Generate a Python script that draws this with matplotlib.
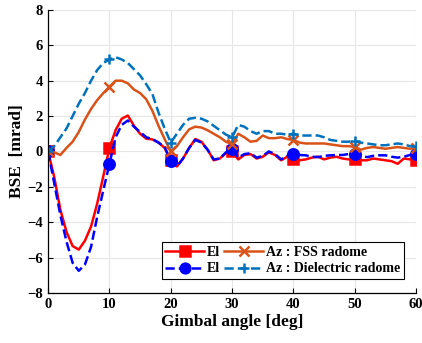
import numpy as np
import matplotlib.pyplot as plt
from matplotlib.lines import Line2D

plt.rcParams['font.family'] = ['Liberation Serif', 'DejaVu Serif']
plt.rcParams['font.weight'] = 'bold'

# gimbal angle, 1 deg steps
angle = list(range(0, 61))

el_fss = [0, -1.45, -3.3, -4.55, -5.35, -5.55, -5.05, -4.25, -2.95, -1.4,
          0.2, 1.2, 1.85, 2.03, 1.45, 1.0, 0.72, 0.68, 0.5, 0.2,
          -0.5, -0.85, -0.4, 0.2, 0.7, 0.55, 0.1, -0.5, -0.4, -0.1,
          0.0, -0.45, -0.2, -0.15, -0.4, -0.3, -0.05, -0.2, -0.5, -0.3,
          -0.45, -0.5, -0.45, -0.35, -0.3, -0.45, -0.35, -0.3, -0.4, -0.45,
          -0.45, -0.5, -0.5, -0.4, -0.45, -0.5, -0.55, -0.7, -0.4, -0.45,
          -0.5]
el_die = [0, -1.8, -3.6, -5.1, -6.3, -6.75, -6.4, -5.4, -3.7, -2.2,
          -0.7, 0.8, 1.5, 1.75, 1.4, 1.1, 0.8, 0.7, 0.5, 0.25,
          -0.55, -0.85, -0.4, 0.2, 0.65, 0.5, 0.1, -0.45, -0.4, -0.05,
          0.15, -0.35, -0.15, -0.1, -0.35, -0.25, 0.0, -0.15, -0.45, -0.25,
          -0.15, -0.2, -0.22, -0.3, -0.32, -0.25, -0.22, -0.2, -0.2, -0.15,
          -0.15, -0.25, -0.32, -0.25, -0.22, -0.22, -0.3, -0.35, -0.3, -0.2,
          -0.15]
az_fss = [0, -0.05, -0.2, 0.2, 0.55, 1.1, 1.8, 2.4, 2.9, 3.3,
          3.65, 4.0, 4.0, 3.85, 3.5, 3.3, 2.95, 2.3, 1.45, 0.7,
          0.0, 0.3, 0.8, 1.25, 1.4, 1.35, 1.2, 1.0, 0.8, 0.55,
          0.4, 1.0, 0.8, 0.55, 0.6, 0.9, 0.75, 0.75, 0.8, 0.7,
          0.65, 0.5, 0.45, 0.45, 0.45, 0.45, 0.4, 0.35, 0.3, 0.3,
          0.25, 0.1, 0.2, 0.25, 0.2, 0.15, 0.2, 0.25, 0.2, 0.15,
          0.2]
az_die = [0, 0.3, 0.8, 1.3, 2.0, 2.7, 3.3, 4.0, 4.6, 5.0,
          5.2, 5.33, 5.2, 5.0, 4.65, 4.3, 3.8, 3.25, 2.2, 1.3,
          0.5, 1.0, 1.5, 1.85, 1.9, 1.85, 1.7, 1.45, 1.2, 0.95,
          0.8, 1.5, 1.4, 1.15, 1.0, 1.15, 1.15, 1.0, 1.0, 0.95,
          1.0, 0.9, 0.9, 0.9, 0.9, 0.8, 0.65, 0.6, 0.55, 0.55,
          0.6, 0.5, 0.45, 0.4, 0.35, 0.35, 0.4, 0.45, 0.4, 0.3,
          0.3]

labels = ['El', 'El', 'Az : FSS radome', 'Az : Dielectric radome']
styles = [('-', '#FF0000', 's'), ('--', '#0000FF', 'o'),
          ('-', '#D95319', 'x'), ('--', '#0072BD', '+')]

fig = plt.figure(figsize=(4.22, 3.43), dpi=100)
ax = fig.add_axes([0.114, 0.146, 0.872, 0.825])

handles = []
for y, (ls, c, m), lab in zip([el_fss, el_die, az_fss, az_die], styles, labels):
    ax.plot(angle, y, linestyle=ls, color=c, marker=m, markevery=10,
            markersize=7.5, mew=1.8, linewidth=1.8)
    handles.append(Line2D([], [], linestyle=ls, color=c, marker=m,
                          markersize=7, mew=1.8, linewidth=1.8))

ax.set_xlim(0, 60)
ax.set_ylim(-8, 8)
ax.set_xticks(range(0, 61, 10))
ax.set_yticks(range(-8, 9, 2))
ax.grid(True, color='#e6e6e6', linewidth=0.8)
ax.set_axisbelow(True)
ax.tick_params(direction='in', labelsize=10.5, top=False, right=False)
ax.spines['top'].set_visible(False)
ax.spines['right'].set_visible(False)
for s in ax.spines.values():
    s.set_linewidth(0.9)
ax.set_xlabel('Gimbal angle [deg]', fontsize=12.5, fontweight='bold', labelpad=2)
ax.set_ylabel('BSE  [mrad]', fontsize=12.5, fontweight='bold', labelpad=2)

leg = ax.legend(handles, labels, ncol=2, loc='lower right',
                bbox_to_anchor=(0.985, 0.025), numpoints=1,
                fontsize=10, frameon=True, fancybox=False, handlelength=2.8,
                columnspacing=0.3, handletextpad=0.2, borderpad=0.25,
                labelspacing=0.25)
leg.get_frame().set_edgecolor('black')
leg.get_frame().set_linewidth(0.8)
leg.get_frame().set_alpha(1)

fig.savefig('out.png', dpi=100)
